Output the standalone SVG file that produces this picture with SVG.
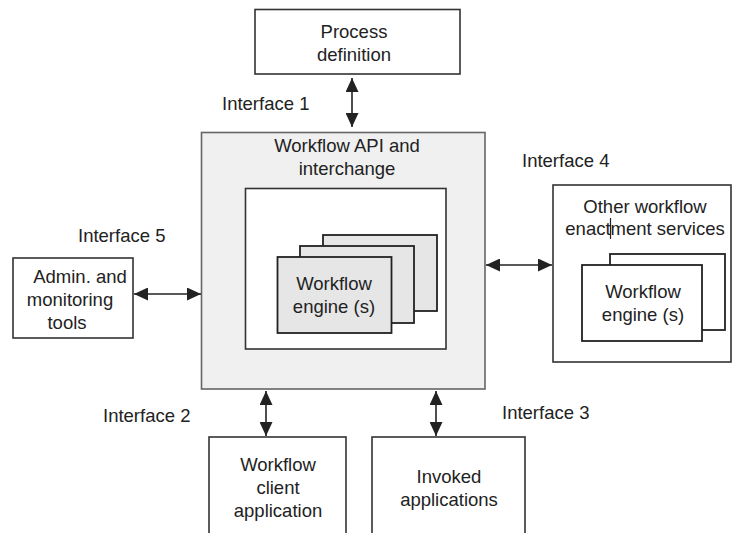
<svg xmlns="http://www.w3.org/2000/svg" width="732" height="533" viewBox="0 0 732 533">
  <style>
    text { font-family: "Liberation Sans", Arial, sans-serif; font-size: 18.5px; fill: #222; text-anchor: middle; }
    .box { fill: #fff; stroke: #333; stroke-width: 1.6; }
    .card { fill: #e6e6e6; stroke: #222; stroke-width: 1.8; }
    .wcard { fill: #fff; stroke: #222; stroke-width: 1.8; }
    .conn { stroke: #222; stroke-width: 1.6; fill: none; marker-start: url(#head); marker-end: url(#head); }
    .lbl { text-anchor: start; }
  </style>
  <defs>
    <marker id="head" viewBox="0 0 10 10" refX="10" refY="5" markerWidth="14" markerHeight="13" markerUnits="userSpaceOnUse" orient="auto-start-reverse" preserveAspectRatio="none">
      <path d="M0,0 L10,5 L0,10 z" fill="#222"/>
    </marker>
  </defs>
  <rect width="732" height="533" fill="#fff"/>

  <g id="process-definition">
    <rect class="box" x="255" y="9.5" width="205" height="64.5"/>
    <text x="354" y="38">Process</text>
    <text x="354" y="61">definition</text>
  </g>

  <g id="workflow-api">
    <rect x="201.5" y="132.5" width="283.5" height="256.5" fill="#f0f0f0" stroke="#666" stroke-width="1.6"/>
    <text x="347" y="152">Workflow API and</text>
    <text x="347" y="175">interchange</text>
    <rect class="box" x="245.5" y="188.5" width="200.5" height="160.5"/>
  </g>

  <g id="workflow-engines">
    <rect class="card" x="323" y="235" width="114" height="76"/>
    <rect class="card" x="300" y="246" width="114" height="77"/>
    <rect class="card" x="277.5" y="257" width="114" height="76"/>
    <text x="334" y="290">Workflow</text>
    <text x="334" y="313">engine (s)</text>
  </g>

  <g id="other-services">
    <rect class="box" x="553" y="185" width="178" height="177"/>
    <text x="645" y="213">Other workflow</text>
    <text x="645" y="235">enactment services</text>
    <line x1="610.5" y1="218" x2="610.5" y2="239" stroke="#222" stroke-width="1.2"/>
    <rect class="wcard" x="610" y="254" width="115" height="76"/>
    <rect class="wcard" x="582" y="265" width="120" height="76"/>
    <text x="643" y="298">Workflow</text>
    <text x="643" y="321">engine (s)</text>
  </g>

  <g id="admin-tools">
    <rect class="box" x="13" y="258" width="120" height="80"/>
    <text x="80" y="283">Admin. and</text>
    <text x="70" y="306">monitoring</text>
    <text x="67" y="329">tools</text>
  </g>

  <g id="client-application">
    <rect class="box" x="209" y="437" width="137" height="100"/>
    <text x="278" y="471">Workflow</text>
    <text x="278" y="494">client</text>
    <text x="278" y="517">application</text>
  </g>

  <g id="invoked-applications">
    <rect class="box" x="372" y="437" width="153" height="100"/>
    <text x="449" y="483">Invoked</text>
    <text x="449" y="506">applications</text>
  </g>

  <g id="labels">
    <text class="lbl" x="222" y="110">Interface 1</text>
    <text class="lbl" x="522" y="167">Interface 4</text>
    <text class="lbl" x="78" y="242">Interface 5</text>
    <text class="lbl" x="103" y="422">Interface 2</text>
    <text class="lbl" x="502" y="419">Interface 3</text>
  </g>

  <g id="connectors">
    <line class="conn" x1="352" y1="78" x2="352" y2="127"/>
    <line class="conn" x1="134" y1="294" x2="201" y2="294"/>
    <line class="conn" x1="486" y1="265" x2="552" y2="265"/>
    <line class="conn" x1="266" y1="391" x2="266" y2="436"/>
    <line class="conn" x1="436" y1="391" x2="436" y2="436"/>
  </g>
</svg>
